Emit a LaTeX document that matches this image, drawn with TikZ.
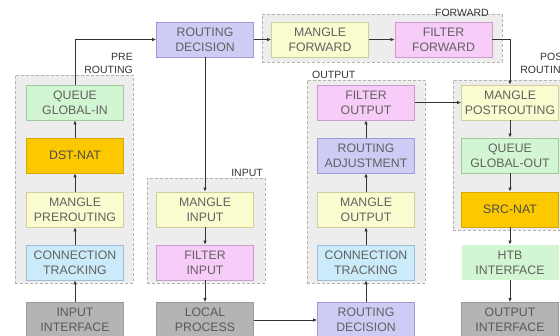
\documentclass[tikz,border=0pt]{standalone}
\usepackage{fontspec}
\setmainfont{Liberation Sans}
\usepackage{xcolor}
\usepackage{tikz}
\usetikzlibrary{arrows.meta,positioning,backgrounds}
\definecolor{nfroutefill}{HTML}{CCCCF5}
\definecolor{nfrouteline}{HTML}{9C9CD0}
\definecolor{nfmanglefill}{HTML}{FBFBD0}
\definecolor{nfmangleline}{HTML}{CFCF9C}
\definecolor{nffilterfill}{HTML}{F8CCF8}
\definecolor{nffilterline}{HTML}{CC9CCC}
\definecolor{nfqueuefill}{HTML}{D2F5D2}
\definecolor{nfqueueline}{HTML}{9CCC9C}
\definecolor{nfconnfill}{HTML}{CCEBFA}
\definecolor{nfconnline}{HTML}{9CBCD8}
\definecolor{nfnatfill}{HTML}{FCC800}
\definecolor{nfnatline}{HTML}{D8A800}
\definecolor{nfifacefill}{HTML}{B4B4B4}
\definecolor{nfifaceline}{HTML}{9A9A9A}
\tikzset{
  nfbox/.style    = {rectangle, align=center, font=\fontsize{12.3}{15}\selectfont,
                     text=black!62, minimum width=97pt, minimum height=35pt,
                     inner sep=1pt, line width=0.7pt},
  nfroute/.style  = {nfbox, fill=nfroutefill, draw=nfrouteline},
  nfmangle/.style = {nfbox, fill=nfmanglefill, draw=nfmangleline},
  nffilter/.style = {nfbox, fill=nffilterfill, draw=nffilterline},
  nfqueue/.style  = {nfbox, fill=nfqueuefill, draw=nfqueueline},
  nfconn/.style   = {nfbox, fill=nfconnfill, draw=nfconnline},
  nfnat/.style    = {nfbox, fill=nfnatfill, draw=nfnatline, text=black!70},
  nfiface/.style  = {nfbox, fill=nfifacefill, draw=nfifaceline, text=black!65},
  nfgroup/.style  = {rectangle, draw=black!30, fill=black!7, line width=1pt,
                     dash pattern=on 3pt off 2pt, inner sep=0pt},
  nflbl/.style    = {font=\fontsize{10.5}{13}\selectfont, text=black!80,
                     inner sep=0pt, align=right},
  nfflow/.style   = {-{Latex[length=4pt,width=3.5pt]}, draw=black!80, line width=0.9pt},
}

\begin{document}
\begin{tikzpicture}[x=1pt,y=-1pt]
  \useasboundingbox (0,0) rectangle (560,335);

  \node[nfgroup, minimum width=118pt, minimum height=208pt] (gpre)  at (74,179)    {};
  \node[nfgroup, minimum width=118pt, minimum height=105pt] (ginp)  at (206,230.5) {};
  \node[nfgroup, minimum width=240pt, minimum height=48pt]  (gfwd)  at (382,38)    {};
  \node[nfgroup, minimum width=118pt, minimum height=203pt] (gout)  at (366,181.5) {};
  \node[nfgroup, minimum width=117pt, minimum height=150pt] (gpost) at (511.5,155) {};

  \node[nflbl, anchor=south east] (lpre)  at (133,74)  {PRE\\ROUTING};
  \node[nflbl, anchor=east]       (linp)  at (263,173) {INPUT};
  \node[nflbl, anchor=east]       (lfwd)  at (489,13)  {FORWARD};
  \node[nflbl, anchor=west]       (lout)  at (312,75)  {OUTPUT};
  \node[nflbl, anchor=south east] (lpost) at (569,74)  {POST\\ROUTING};

  \node[nfqueue]  (qin)   at (75,102.5)  {QUEUE\\GLOBAL-IN};
  \node[nfnat]    (dnat)  at (75,155.5)  {DST-NAT};
  \node[nfmangle] (mpre)  at (75,209.5)  {MANGLE\\PREROUTING};
  \node[nfconn]   (ctin)  at (75,262.5)  {CONNECTION\\TRACKING};
  \node[nfiface]  (inif)  at (75,320)    {INPUT\\INTERFACE};

  \node[nfroute]  (rdec)  at (205,39.5)  {ROUTING\\DECISION};
  \node[nfmangle] (mfwd)  at (320,39.5)  {MANGLE\\FORWARD};
  \node[nffilter] (ffwd)  at (443.5,39.5) {FILTER\\FORWARD};

  \node[nfmangle] (minp)  at (205,209.5) {MANGLE\\INPUT};
  \node[nffilter] (finp)  at (205,262.5) {FILTER\\INPUT};
  \node[nfiface]  (lproc) at (205,320)   {LOCAL\\PROCESS};

  \node[nffilter] (fout)  at (366,102.5) {FILTER\\OUTPUT};
  \node[nfroute]  (radj)  at (366,155.5) {ROUTING\\ADJUSTMENT};
  \node[nfmangle] (mout)  at (366,209.5) {MANGLE\\OUTPUT};
  \node[nfconn]   (ctout) at (366,262.5) {CONNECTION\\TRACKING};
  \node[nfroute]  (rdout) at (366,320)   {ROUTING\\DECISION};

  \node[nfmangle] (mpost) at (510,102.5) {MANGLE\\POSTROUTING};
  \node[nfqueue]  (qout)  at (510,155.5) {QUEUE\\GLOBAL-OUT};
  \node[nfnat]    (snat)  at (510,209.5) {SRC-NAT};
  \node[nfqueue, draw=none] (htb) at (510,262.5) {HTB\\INTERFACE};
  \node[nfiface]  (outif) at (510,320)   {OUTPUT\\INTERFACE};

  \draw[nfflow] (inif) -- (ctin);
  \draw[nfflow] (ctin) -- (mpre);
  \draw[nfflow] (mpre) -- (dnat);
  \draw[nfflow] (dnat) -- (qin);
  \draw[nfflow] (qin.north) |- (rdec.west);
  \draw[nfflow] (rdec) -- (mfwd);
  \draw[nfflow] (mfwd) -- (ffwd);
  \draw[nfflow] (ffwd.east) -| (mpost.north);
  \draw[nfflow] (rdec) -- (minp);
  \draw[nfflow] (minp) -- (finp);
  \draw[nfflow] (finp) -- (lproc);
  \draw[nfflow] (lproc) -- (rdout);
  \draw[nfflow] (rdout) -- (ctout);
  \draw[nfflow] (ctout) -- (mout);
  \draw[nfflow] (mout) -- (radj);
  \draw[nfflow] (radj) -- (fout);
  \draw[nfflow] (fout) -- (mpost);
  \draw[nfflow] (mpost) -- (qout);
  \draw[nfflow] (qout) -- (snat);
  \draw[nfflow] (snat) -- (htb);
  \draw[nfflow] (htb) -- (outif);
\end{tikzpicture}
\end{document}
